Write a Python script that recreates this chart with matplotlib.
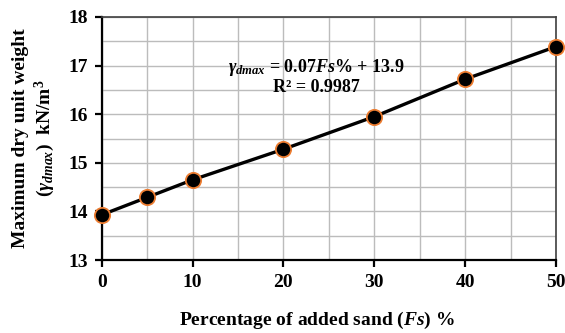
import matplotlib
matplotlib.use("Agg")
import matplotlib.pyplot as plt
from matplotlib.ticker import MultipleLocator

plt.rcParams['font.family'] = ['Liberation Serif', 'DejaVu Serif']
plt.rcParams['font.weight'] = 'bold'
plt.rcParams['mathtext.fontset'] = 'custom'
plt.rcParams['mathtext.rm'] = 'Liberation Serif:bold'
plt.rcParams['mathtext.it'] = 'Liberation Serif:italic'
plt.rcParams['mathtext.bf'] = 'Liberation Serif:bold'

# sand content (%) and max dry unit weight (kN/m3)
sand_pct = [0, 5, 10, 20, 30, 40, 50]
gamma_dmax = [13.93, 14.29, 14.65, 15.28, 15.95, 16.72, 17.39]
fit_label = "$\\mathit{\\gamma_{dmax}}$ = 0.07$\\mathbf{\\mathit{Fs}}$% + 13.9\nR² = 0.9987"

fig = plt.figure(figsize=(5.65, 3.33), dpi=100)
ax = fig.add_axes([0.180, 0.219, 0.804, 0.730])

ax.plot(sand_pct, gamma_dmax, color='black', lw=2.4, marker='o', ms=11,
        mfc='black', mec='#ED7D31', mew=1.3, zorder=3, clip_on=False)

ax.set_xlim(0, 50)
ax.set_ylim(13, 18)
ax.xaxis.set_major_locator(MultipleLocator(10))
ax.xaxis.set_minor_locator(MultipleLocator(5))
ax.yaxis.set_major_locator(MultipleLocator(1))
ax.yaxis.set_minor_locator(MultipleLocator(0.5))
ax.grid(True, which='both', color='#bcbcbc', lw=1.0)
ax.set_axisbelow(True)

for s in ['left', 'bottom']:
    ax.spines[s].set_linewidth(1.6)
    ax.spines[s].set_color('black')
for s in ['top', 'right']:
    ax.spines[s].set_linewidth(1.2)
    ax.spines[s].set_color('#404040')

ax.tick_params(which='major', direction='out', length=5, width=1.6, labelsize=14, pad=5)
ax.tick_params(which='minor', length=0)
for lab in ax.get_xticklabels() + ax.get_yticklabels():
    lab.set_fontweight('bold')

ax.set_xlabel("Percentage of added sand ($\\mathbf{\\mathit{Fs}}$) %", fontsize=14,
              fontweight='bold')
ax.xaxis.set_label_coords(0.474, -0.205)
ax.set_ylabel("Maximum dry unit weight\n($\\mathit{\\gamma_{dmax}}$)  kN/m$^3$", fontsize=14,
              fontweight='bold', labelpad=8)

ax.text(23.6, 16.77, fit_label, ha='center', va='center', fontsize=13,
        fontweight='bold', linespacing=1.05)

fig.savefig("out.png", dpi=100)
